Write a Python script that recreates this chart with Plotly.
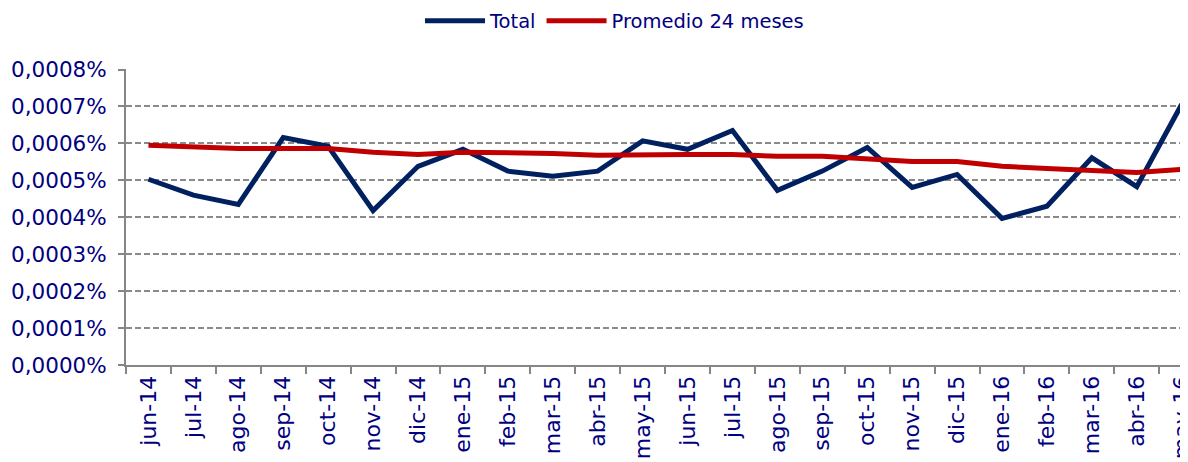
import plotly.graph_objects as go

months = ["jun-14", "jul-14", "ago-14", "sep-14", "oct-14", "nov-14", "dic-14", "ene-15",
          "feb-15", "mar-15", "abr-15", "may-15", "jun-15", "jul-15", "ago-15", "sep-15",
          "oct-15", "nov-15", "dic-15", "ene-16", "feb-16", "mar-16", "abr-16", "may-16"]

total = [0.000503, 0.000460, 0.000435, 0.000616, 0.000592, 0.000418, 0.000538, 0.000584,
         0.000525, 0.000511, 0.000525, 0.000607, 0.000584, 0.000635, 0.000473, 0.000525,
         0.000589, 0.000481, 0.000516, 0.000397, 0.000430, 0.000561, 0.000483, 0.000706]

promedio = [0.000595, 0.000589, 0.000586, 0.000586, 0.000586, 0.000576, 0.000570, 0.000576,
            0.000576, 0.000573, 0.000568, 0.000570, 0.000570, 0.000570, 0.000565, 0.000565,
            0.000559, 0.000551, 0.000551, 0.000538, 0.000532, 0.000526, 0.000521, 0.000530]

y_tickvals = [0.0, 0.0001, 0.0002, 0.0003, 0.0004, 0.0005, 0.0006, 0.0007, 0.0008]
y_ticktext = ["0,0000%", "0,0001%", "0,0002%", "0,0003%", "0,0004%", "0,0005%",
              "0,0006%", "0,0007%", "0,0008%"]

navy_text = "#000080"
font_family = "DejaVu Sans, Verdana, sans-serif"

fig = go.Figure()
fig.add_trace(go.Scatter(x=months, y=total, mode="lines", name="Total",
                         line=dict(color="#002060", width=5)))
fig.add_trace(go.Scatter(x=months, y=promedio, mode="lines", name="Promedio 24 meses",
                         line=dict(color="#C00000", width=5)))

# the page body adds an 8px offset; the figure is sized so it fits the window exactly
fig.update_layout(
    width=1180, height=454,
    margin=dict(l=118, r=0, t=61, b=97),
    paper_bgcolor="white", plot_bgcolor="white",
    font=dict(family=font_family, size=22, color=navy_text),
    showlegend=True,
    legend=dict(orientation="h", xref="container", x=412 / 1180, xanchor="left",
                yref="container", y=1 - 13 / 454, yanchor="middle",
                font=dict(size=19.5, color=navy_text),
                itemwidth=60, tracegroupgap=0),
)
fig.update_xaxes(
    type="category", range=[-0.5, 23.14], automargin=False,
    showline=True, linecolor="#868686", linewidth=2,
    ticks="outside", ticklen=7, tickcolor="#868686", tickwidth=2,
    tickson="boundaries", tickangle=-90,
    showgrid=False, zeroline=False,
    tickfont=dict(size=22, color=navy_text),
)
fig.update_yaxes(
    range=[0, 0.0008015], tickvals=y_tickvals, ticktext=y_ticktext, automargin=False,
    showline=True, linecolor="#868686", linewidth=2,
    ticks="outside", ticklen=6, tickcolor="#868686", tickwidth=2,
    ticklabelstandoff=7,
    showgrid=True, gridcolor="#8a8a8a", gridwidth=1.5, griddash="6px,3px",
    zeroline=False,
    tickfont=dict(size=21.5, color=navy_text),
)

fig.write_html("out.html")
